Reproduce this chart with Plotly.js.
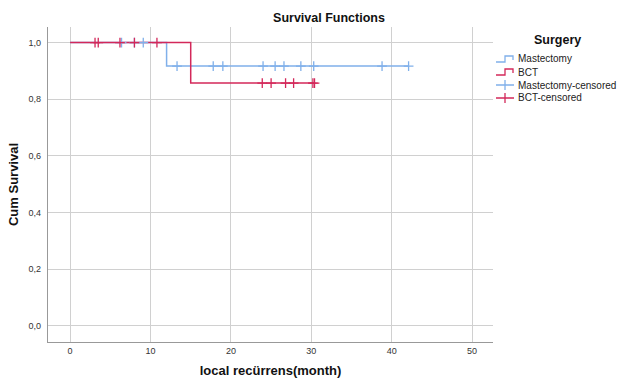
<!DOCTYPE html>
<html>
<head>
<meta charset="utf-8">
<script src="https://cdn.plot.ly/plotly-3.0.1.min.js"></script>
<style>html,body{margin:0;padding:0;background:#fff;}#chart{width:619px;height:382px;}</style>
</head>
<body>
<div id="chart"></div>
<script>
// Step curves (Kaplan-Meier)
const mastX = [0, 12, 42.1];
const mastY = [1.0, 0.917, 0.917];
const bctX = [0, 15, 30.5];
const bctY = [1.0, 0.857, 0.857];
// Censored observations
const mastCensX = [6.4, 8.0, 9.1, 13.3, 17.8, 19.0, 24.0, 25.5, 26.6, 28.7, 30.3, 38.8, 42.1];
const mastCensY = [1.0, 1.0, 1.0, 0.917, 0.917, 0.917, 0.917, 0.917, 0.917, 0.917, 0.917, 0.917, 0.917];
const bctCensX = [3.1, 3.5, 6.2, 8.0, 10.8, 23.9, 25.0, 26.8, 27.8, 30.2, 30.4];
const bctCensY = [1.0, 1.0, 1.0, 1.0, 1.0, 0.857, 0.857, 0.857, 0.857, 0.857, 0.857];
const xTicks = [0, 10, 20, 30, 40, 50];
const yTicks = [0, 0.2, 0.4, 0.6, 0.8, 1.0];
const legendTitle = 'Surgery';
const legendNames = ['Mastectomy', 'BCT', 'Mastectomy-censored', 'BCT-censored'];

const blue = '#80b0ea';
const red = '#d3285a';
const colors = [blue, red, blue, red];

const W = 619, H = 382;
const M = {l: 48, r: 126, t: 27, b: 40};
const PW = W - M.l - M.r, PH = H - M.t - M.b;
const px = v => (v - M.l) / PW;
const py = v => (H - M.b - v) / PH;

const traces = [
  {x: mastX, y: mastY, mode: 'lines', line: {shape: 'hv', color: blue, width: 1.5}, name: legendNames[0]},
  {x: bctX, y: bctY, mode: 'lines', line: {shape: 'hv', color: red, width: 1.5}, name: legendNames[1]},
  {x: mastCensX, y: mastCensY, mode: 'markers', marker: {symbol: 'cross-thin', size: 7, line: {color: blue, width: 1.3}, color: blue}, name: legendNames[2]},
  {x: bctCensX, y: bctCensY, mode: 'markers', marker: {symbol: 'cross-thin', size: 7, line: {color: red, width: 1.3}, color: red}, name: legendNames[3]}
];

// Custom legend (SPSS style)
const annotations = [{
  text: '<b>' + legendTitle + '</b>', xref: 'paper', yref: 'paper', x: px(557), y: py(40),
  xanchor: 'center', yanchor: 'middle', showarrow: false, font: {size: 12.5, color: '#111'}
}];
const shapes = [];
const itemY = [59, 72, 85, 98];
legendNames.forEach((n, i) => {
  const yc = itemY[i];
  annotations.push({text: n, xref: 'paper', yref: 'paper', x: px(516), y: py(yc), xanchor: 'left', yanchor: 'middle',
    showarrow: false, font: {size: 10, color: '#222'}});
  let path;
  if (i < 2) {
    path = `M${px(496)},${py(yc+3)} L${px(505)},${py(yc+3)} L${px(505)},${py(yc-3)} L${px(513)},${py(yc-3)} L${px(513)},${py(yc+1)}`;
  } else {
    path = `M${px(496)},${py(yc)} L${px(514)},${py(yc)} M${px(505)},${py(yc-5)} L${px(505)},${py(yc+5)}`;
  }
  shapes.push({type: 'path', xref: 'paper', yref: 'paper', path: path, line: {color: colors[i], width: 1.3}});
});

const layout = {
  width: W, height: H,
  margin: Object.assign({autoexpand: false}, M),
  paper_bgcolor: '#fff', plot_bgcolor: '#fff',
  separators: ',.',
  font: {family: 'Arial, Liberation Sans, sans-serif', size: 9, color: '#333'},
  title: {text: 'Survival Functions', x: 329 / W, xref: 'container', y: 1 - 18 / H, yref: 'container', yanchor: 'middle', xanchor: 'center',
          font: {size: 12.5, color: '#111', weight: 'bold'}},
  xaxis: {
    range: [-2.75, 52.6], tickvals: xTicks, ticktext: xTicks.map(String),
    showgrid: true, gridcolor: '#d0d0d0', gridwidth: 1, zeroline: false,
    showline: true, linecolor: '#999', linewidth: 1.3, ticks: '', ticklen: 0,
    tickfont: {size: 9, color: '#333'},
    title: {text: 'local recürrens(month)', standoff: 10, font: {size: 13, color: '#111', weight: 'bold'}}
  },
  yaxis: {
    range: [-0.0565, 1.055], tickvals: yTicks, tickformat: '.1f',
    showgrid: true, gridcolor: '#d0d0d0', gridwidth: 1, zeroline: false,
    showline: true, linecolor: '#999', linewidth: 1.3, ticks: '', ticklen: 0,
    ticklabelstandoff: 4,
    tickfont: {size: 9, color: '#333'},
    title: {text: 'Cum Survival', standoff: 6, font: {size: 13, color: '#111', weight: 'bold'}}
  },
  showlegend: false,
  annotations: annotations,
  shapes: shapes
};

Plotly.newPlot('chart', traces, layout, {displayModeBar: false, staticPlot: true});
</script>
</body>
</html>
